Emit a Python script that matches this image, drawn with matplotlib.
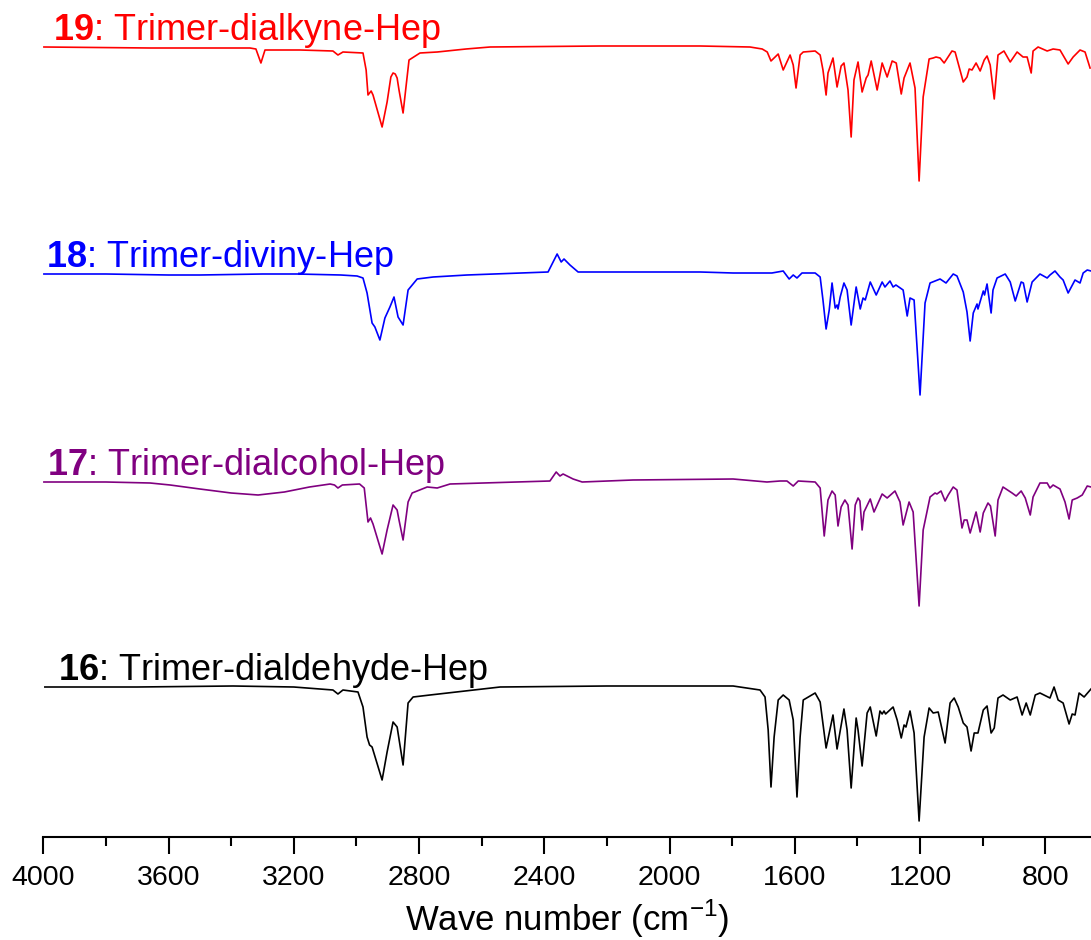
import numpy as np
import matplotlib
matplotlib.use('Agg')
from matplotlib import pyplot as plt
from matplotlib.ticker import MultipleLocator

plt.rcParams['font.family'] = ['Liberation Sans', 'DejaVu Sans']
plt.rcParams['mathtext.fontset'] = 'custom'
plt.rcParams['mathtext.rm'] = 'Liberation Sans'
plt.rcParams['mathtext.bf'] = 'Liberation Sans:bold'

# IR-спектры, значения (пропускание, отн. ед., 0 = базовая линия)
red_wn = [3998, 3659, 3340, 3321, 3305, 3292, 3180, 3075, 3059, 3043, 2979, 2969, 2963, 2953, 2947, 2918,
          2902, 2890, 2883, 2876, 2870, 2864, 2851, 2841, 2832, 2797, 2742, 2650, 2573, 2222, 1902, 1743, 1704, 1688, 1676,
          1653, 1637, 1615, 1605, 1596, 1583, 1573, 1535, 1519, 1510, 1500, 1494, 1478, 1465, 1452, 1443,
          1430, 1420, 1411, 1398, 1385, 1372, 1366, 1356, 1337, 1321, 1305, 1289, 1276, 1260, 1251, 1232,
          1216, 1203, 1190, 1171, 1158, 1149, 1136, 1123, 1098, 1088, 1062, 1050, 1043, 1034, 1021, 1008,
          995, 986, 976, 963, 951, 932, 912, 890, 871, 858, 845, 839, 823, 794, 775, 753, 727, 711, 689, 673, 657]
red_T = [0, -1, -1, -2, -16, -3, -3, -4, -8, -5, -6, -23, -48, -44, -48, -80,
         -55, -30, -26, -27, -31, -43, -66, -38, -13, -6, -5, -2, 0, 1, 1, 0, -2, -5, -14,
         -7, -23, -8, -18, -41, -8, -5, -4, -8, -23, -48, -26, -11, -40, -19, -16,
         -43, -90, -33, -15, -45, -31, -28, -14, -43, -16, -30, -14, -16, -47, -31, -16,
         -41, -134, -50, -12, -11, -10, -11, -16, -4, -5, -35, -30, -22, -23, -16, -24,
         -13, -9, -18, -52, -8, -4, -15, -5, -10, -10, -26, -4, 0, -4, -2, -3, -17, -10, -3, -5, -21]

blue_wn = [3998, 3800, 3600, 3500, 3300, 3190, 3050, 2998, 2979, 2966, 2950, 2941, 2925, 2909, 2893, 2880,
           2867, 2851, 2835, 2806, 2755, 2647, 2388, 2359, 2346, 2337, 2318, 2292, 1902, 1797, 1673, 1637,
           1618, 1605, 1593, 1577, 1535, 1519, 1510, 1500, 1490, 1481, 1471, 1465, 1462, 1455, 1443, 1433,
           1420, 1404, 1391, 1382, 1375, 1359, 1340, 1321, 1312, 1296, 1286, 1277, 1254, 1241, 1232, 1219,
           1200, 1184, 1168, 1136, 1117, 1094, 1082, 1062, 1050, 1040, 1030, 1018, 1015, 998, 994, 986,
           973, 967, 954, 928, 912, 896, 877, 870, 858, 842, 817, 794, 785, 769, 753, 743, 727, 705, 689, 679, 666, 654]
blue_T = [0, 0, -1, -1, 0, 0, -1, -2, -4, -19, -49, -53, -66, -44, -33, -23,
          -43, -51, -16, -5, -3, -1, 2, 20, 12, 15, 9, 2, 2, 1, 1, 3,
          -5, -1, -4, 1, 1, -3, -26, -55, -36, -9, -34, -31, -35, -23, -9, -16,
          -51, -13, -35, -24, -26, -8, -21, -8, -13, -7, -13, -11, -16, -42, -24, -26,
          -121, -29, -9, -5, -9, 0, -2, -18, -38, -67, -39, -30, -35, -17, -21, -10,
          -39, -16, -4, 0, -8, -27, -8, -9, -28, -8, 0, -4, -1, 3, -3, -6, -19, -6, -9, 1, 4, 3]

purple_wn = [3998, 3800, 3659, 3595, 3500, 3400, 3314, 3230, 3150, 3084, 3070, 3059, 3045, 2990, 2975, 2963,
             2955, 2947, 2918, 2902, 2883, 2870, 2864, 2851, 2835, 2822, 2774, 2742, 2701, 2382, 2362, 2350,
             2340, 2308, 2279, 2117, 1797, 1689, 1647, 1625, 1605, 1589, 1535, 1519, 1506, 1494, 1481, 1471,
             1462, 1452, 1440, 1430, 1417, 1407, 1398, 1392, 1385, 1379, 1359, 1347, 1321, 1305, 1280, 1264,
             1254, 1235, 1222, 1203, 1190, 1168, 1152, 1146, 1133, 1120, 1110, 1094, 1082, 1066, 1059, 1050,
             1040, 1021, 1008, 998, 983, 975, 960, 951, 935, 906, 893, 877, 864, 848, 839, 817, 794, 785,
             775, 753, 737, 724, 714, 698, 682, 666, 654]
purple_T = [0, 0, -1, -3, -7, -11, -13, -10, -5, -2, -3, -6, -3, -2, -6, -40,
            -36, -42, -72, -48, -23, -28, -38, -58, -20, -11, -5, -6, -2, 1, 10, 6,
            8, 3, 0, 2, 3, 0, 1, 1, -4, 1, 0, -6, -54, -18, -9, -13,
            -44, -25, -18, -23, -67, -23, -16, -19, -48, -30, -17, -30, -12, -16, -9, -20,
            -43, -20, -30, -124, -48, -15, -11, -12, -9, -19, -13, -5, -8, -46, -38, -38,
            -51, -30, -50, -31, -21, -24, -54, -18, -5, -11, -14, -9, -16, -33, -15, -1, -1, -6,
            -3, -7, -20, -37, -18, -16, -13, -4, -5]

black_wn = [3995, 3700, 3394, 3200, 3075, 3059, 3043, 2995, 2979, 2966, 2958, 2950, 2918, 2902, 2883, 2870,
            2864, 2851, 2835, 2819, 2765, 2541, 2200, 1902, 1797, 1711, 1695, 1685, 1676, 1666, 1653, 1637,
            1618, 1605, 1593, 1583, 1573, 1535, 1519, 1500, 1478, 1465, 1443, 1433, 1420, 1404, 1398, 1385,
            1369, 1359, 1340, 1328, 1321, 1315, 1310, 1286, 1273, 1260, 1251, 1245, 1232, 1219, 1203, 1187,
            1171, 1158, 1142, 1120, 1104, 1091, 1078, 1062, 1050, 1037, 1027, 1015, 998, 986, 973, 963,
            951, 935, 912, 890, 874, 861, 848, 832, 817, 785, 772, 759, 743, 724, 714, 705, 692, 676, 654]
black_T = [0, 0, 1, 0, -3, -7, -3, -5, -20, -50, -58, -60, -93, -65, -35, -40,
           -52, -78, -16, -10, -8, 0, 1, 1, 1, -3, -10, -43, -100, -50, -13, -8,
           -13, -33, -110, -50, -13, -6, -15, -61, -28, -62, -22, -43, -101, -31, -43, -79,
           -26, -20, -49, -24, -27, -24, -27, -20, -33, -51, -38, -40, -24, -46, -134, -50,
           -21, -26, -25, -56, -16, -11, -20, -36, -40, -64, -46, -46, -23, -19, -46, -41,
           -11, -8, -13, -10, -28, -16, -28, -8, -6, -11, 0, -13, -16, -37, -27, -28, -6, -10, -2]

# подписи спектров (номер соединения жирным)
numbers = ['16', '17', '18', '19']
names = ['Trimer-dialdehyde-Hep', 'Trimer-dialcohol-Hep', 'Trimer-diviny-Hep', 'Trimer-dialkyne-Hep']
colors = ['black', '#800080', '#0000ff', '#ff0000']
offsets = [0, 205, 413, 640]
label_wn = [3953, 3988, 3991, 3969]

spectra = [(black_wn, black_T), (purple_wn, purple_T), (blue_wn, blue_T), (red_wn, red_T)]

fig = plt.figure(figsize=(10.91, 9.40), dpi=100)
ax = fig.add_axes([43.3 / 1091, 103 / 940, 1 - 43.3 / 1091, 837 / 940])

for i in range(len(spectra)):
    wn, t = spectra[i]
    ax.plot(wn, np.array(t) + offsets[i], color=colors[i], lw=1.2, solid_joinstyle='round')
    ax.text(label_wn[i], offsets[i] + 7, r'$\mathbf{' + numbers[i] + '}$: ' + names[i],
            color=colors[i], fontsize=26, ha='left', va='baseline')

ax.set_xlim(4000, 654)
ax.set_ylim(-150, 687)
ax.xaxis.set_major_locator(MultipleLocator(400))
ax.xaxis.set_minor_locator(MultipleLocator(200))
for s in ['left', 'right', 'top']:
    ax.spines[s].set_visible(False)
ax.spines['bottom'].set_linewidth(1.5)
ax.set_yticks([])
ax.tick_params(axis='x', which='major', length=12, width=1.5, labelsize=20.5, pad=8)
ax.tick_params(axis='x', which='minor', length=6.5, width=1.5)
ax.set_xlabel(r'Wave number (cm$^{-1}$)', fontsize=25, labelpad=5)

fig.savefig('out.png', dpi=100)
